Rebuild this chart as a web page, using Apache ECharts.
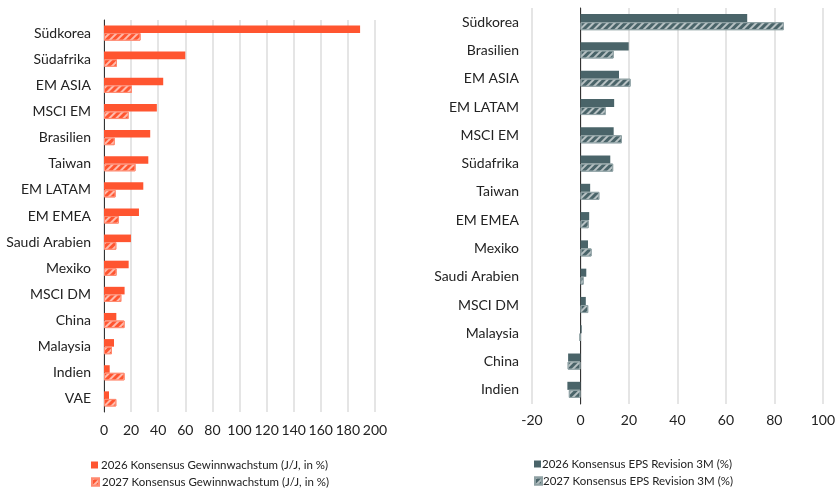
<!DOCTYPE html>
<html><head><meta charset="utf-8">
<script src="https://cdn.jsdelivr.net/npm/echarts@6/dist/echarts.min.js"></script>
<style>html,body{margin:0;padding:0;background:#fff}#c{width:838px;height:494px}</style>
</head><body><div id="c"></div>
<script>
// Left chart: Gewinnwachstum
const catsL = ['Südkorea','Südafrika','EM ASIA','MSCI EM','Brasilien','Taiwan','EM LATAM','EM EMEA','Saudi Arabien','Mexiko','MSCI DM','China','Malaysia','Indien','VAE'];
const growth2026 = [189, 60, 43.7, 39, 34.1, 32.7, 29, 25.8, 19.9, 18.2, 15.2, 9.1, 7.4, 4.2, 3.7];
const growth2027 = [27, 9.6, 20.6, 18.2, 7.9, 23.3, 8.6, 11, 9.1, 9.3, 12.8, 15.2, 5.9, 15.2, 9.1];
const nameL26 = '2026 Konsensus Gewinnwachstum (J/J, in %)';
const nameL27 = '2027 Konsensus Gewinnwachstum (J/J, in %)';
// Right chart: EPS revision
const catsR = ['Südkorea','Brasilien','EM ASIA','EM LATAM','MSCI EM','Südafrika','Taiwan','EM EMEA','Mexiko','Saudi Arabien','MSCI DM','Malaysia','China','Indien'];
const rev2026 = [68.8, 19.9, 15.9, 13.9, 13.7, 12.3, 4.0, 3.6, 3.1, 2.4, 2.2, 0.5, -5.1, -5.4];
const rev2027 = [83.9, 13.7, 20.7, 10.4, 17.1, 13.5, 7.8, 3.4, 4.6, 1.3, 3.2, -0.3, -5.3, -4.8];
const nameR26 = '2026 Konsensus EPS Revision 3M (%)';
const nameR27 = '2027 Konsensus EPS Revision 3M (%)';

const FONT = 'Lato';
const ORANGE = '#FF5530';
const SLATE = '#4A6469';
const hatch = {symbol:'rect', dashArrayX:[1,0], dashArrayY:[2,2.5], rotation:-Math.PI/4, color:'rgba(255,255,255,0.6)'};

function leg(name, left, top, gap){
  return {left:left, top:top, padding:0, itemWidth:7, itemHeight:7, icon:'rect', itemGap:0,
    textStyle:{fontFamily:FONT, fontSize:11.5, color:'#222', padding:[0,0,0,gap]}, data:[name]};
}

const chart = echarts.init(document.getElementById('c'));
chart.setOption({
  animation:false,
  textStyle:{fontFamily:FONT},
  legend:[
    leg(nameL26, 91, 459, -2),
    leg(nameL27, 91, 476, -2),
    leg(nameR26, 534, 458, -4),
    leg(nameR27, 534, 475, -4)
  ],
  grid:[
    {left:104, right:463, top:20, bottom:82},
    {left:532, right:10, top:8, bottom:90}
  ],
  xAxis:[
    {type:'value', gridIndex:0, min:0, max:200, interval:20,
     axisLine:{show:false}, axisTick:{show:false},
     axisLabel:{fontFamily:FONT, fontSize:14, color:'#222', margin:11},
     splitLine:{lineStyle:{color:'#dcdcdc', width:1.5}}},
    {type:'value', gridIndex:1, min:-20, max:100, interval:20,
     axisLine:{show:false}, axisTick:{show:false},
     axisLabel:{fontFamily:FONT, fontSize:14, color:'#222', margin:9},
     splitLine:{lineStyle:{color:'#dcdcdc', width:1.5}}}
  ],
  yAxis:[
    {type:'category', gridIndex:0, data:catsL, inverse:true,
     axisLine:{onZero:false, lineStyle:{color:'#333', width:1}},
     axisTick:{length:4, lineStyle:{color:'#333'}},
     axisLabel:{fontFamily:FONT, fontSize:14, color:'#222', margin:13}},
    {type:'category', gridIndex:1, data:catsR, inverse:true,
     axisLine:{onZero:true, lineStyle:{color:'#333', width:1}},
     axisTick:{length:4, lineStyle:{color:'#333'}},
     axisLabel:{fontFamily:FONT, fontSize:14, color:'#222', margin:13}}
  ],
  series:[
    {name:nameL26, type:'bar', xAxisIndex:0, yAxisIndex:0, data:growth2026, barGap:'0%', barCategoryGap:'42%',
     itemStyle:{color:ORANGE}},
    {name:nameL27, type:'bar', xAxisIndex:0, yAxisIndex:0, data:growth2027, barGap:'0%', barCategoryGap:'42%',
     itemStyle:{color:ORANGE, borderColor:'#FF8A70', borderWidth:1, decal:hatch}},
    {name:nameR26, type:'bar', xAxisIndex:1, yAxisIndex:1, data:rev2026, barGap:'0%', barCategoryGap:'43%',
     itemStyle:{color:SLATE}},
    {name:nameR27, type:'bar', xAxisIndex:1, yAxisIndex:1, data:rev2027, barGap:'0%', barCategoryGap:'43%',
     itemStyle:{color:SLATE, borderColor:'#8FA1A4', borderWidth:1, decal:hatch}}
  ]
});
</script></body></html>
